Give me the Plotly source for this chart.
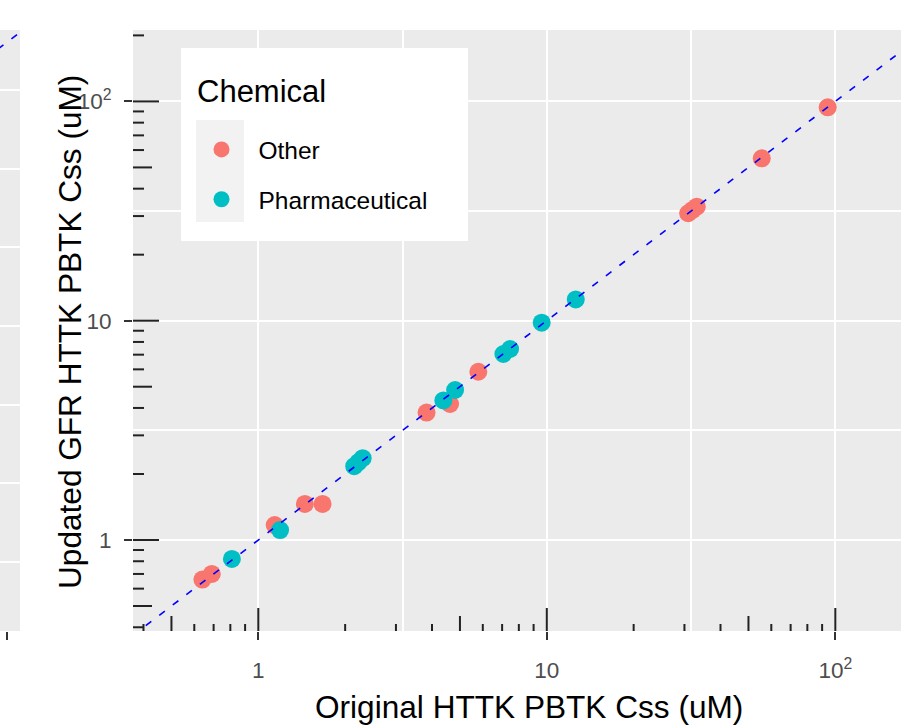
import numpy as np
import plotly.graph_objects as go

# ---------------- data ----------------
other_x = [0.64, 0.69, 1.14, 1.45, 1.67, 3.83, 4.62, 5.79, 30.9, 32.0, 33.1, 55.6, 94.1]
other_y = [0.66, 0.70, 1.17, 1.46, 1.46, 3.81, 4.17, 5.85, 30.9, 32.0, 33.1, 55.0, 94.0]
pharm_x = [0.81, 1.19, 2.15, 2.22, 2.30, 4.38, 4.81, 7.07, 7.46, 9.60, 12.6]
pharm_y = [0.82, 1.11, 2.17, 2.26, 2.36, 4.33, 4.83, 7.05, 7.43, 9.79, 12.5]
major_ticks = [1, 10, 100]
major_labels = ["1", "10", "10<sup>2</sup>"]
minor_grid = [10 ** -0.5, 10 ** 0.5, 10 ** 1.5, 10 ** 2.5]
identity = [0.1, 1000]

# neighbouring (cropped) panel on the left edge
left_grid_major = [1, 10, 100, 1000]
left_grid_minor = [10 ** 0.5, 10 ** 1.5, 10 ** 2.5]
left_xtick = [2000]
left_identity = [1000, 10000]

# ---------------- layout constants ----------------
W, H = 901, 726
M_T, M_B = 30, 95
PLOT_L = 133
PLOT_H = H - M_T - M_B
PLOT_W = W - PLOT_L
X_RANGE = [-0.4343, 2.2277]
Y_RANGE = [-0.415, 2.3256]
PPD_X = PLOT_W / (X_RANGE[1] - X_RANGE[0])
PPD_Y = PLOT_H / (Y_RANGE[1] - Y_RANGE[0])

FONT = "Liberation Sans, Arial, sans-serif"
RED = "#F8766D"
TEAL = "#00BFC4"
PANEL = "#EBEBEB"
TICKC = "#333333"


def px2paper_x(px):
    return px / W


def px2paper_y(py):
    return (H - M_B - py) / PLOT_H


def logtick_values(lo, hi):
    out = {"long": [], "mid": [], "short": []}
    for d in range(int(np.floor(lo)) - 1, int(np.ceil(hi)) + 1):
        for m in range(1, 10):
            v = m * 10.0 ** d
            if lo <= np.log10(v) <= hi:
                key = "long" if m == 1 else ("mid" if m == 5 else "short")
                out[key].append(v)
    return out


fig = go.Figure()

fig.add_trace(go.Scatter(
    x=other_x, y=other_y, mode="markers", name="Other", legendgroup="a",
    marker=dict(color=RED, size=18, line=dict(width=0)), hoverinfo="x+y"))
fig.add_trace(go.Scatter(
    x=pharm_x, y=pharm_y, mode="markers", name="Pharmaceutical", legendgroup="b",
    marker=dict(color=TEAL, size=18, line=dict(width=0)), hoverinfo="x+y"))
fig.add_trace(go.Scatter(
    x=identity, y=identity, mode="lines", showlegend=False, hoverinfo="skip",
    line=dict(color="#0000FF", width=1.6, dash="7px,10px")))

# annotation_logticks (bottom and left, drawn inside the panel)
xt = logtick_values(*X_RANGE)
yt = logtick_values(*Y_RANGE)
xlen = {"long": 23, "mid": 15, "short": 7}
ylen = {"long": 26, "mid": 19, "short": 11}
for key in ("long", "mid", "short"):
    xs, ys = [], []
    for v in xt[key]:
        xs += [v, v, None]
        ys += [10 ** Y_RANGE[0], 10 ** (Y_RANGE[0] + xlen[key] / PPD_Y), None]
    fig.add_trace(go.Scatter(x=xs, y=ys, mode="lines", showlegend=False, hoverinfo="skip",
                             line=dict(color="#222222", width=2)))
    xs, ys = [], []
    for v in yt[key]:
        ys += [v, v, None]
        xs += [10 ** X_RANGE[0], 10 ** (X_RANGE[0] + ylen[key] / PPD_X), None]
    fig.add_trace(go.Scatter(x=xs, y=ys, mode="lines", showlegend=False, hoverinfo="skip",
                             line=dict(color="#222222", width=2)))

# left neighbouring panel strip
fig.add_trace(go.Scatter(
    x=left_identity, y=left_identity, mode="lines", showlegend=False, hoverinfo="skip",
    xaxis="x2", yaxis="y2", line=dict(color="#0000FF", width=1.6, dash="7px,10px")))

axis_common = dict(
    type="log", showline=False, zeroline=False, automargin=False,
    gridcolor="white", gridwidth=2.2,
    ticks="outside", ticklen=8, tickwidth=2, tickcolor=TICKC,
    tickfont=dict(family=FONT, size=22.5, color="#4D4D4D"),
    tickmode="array", tickvals=major_ticks, ticktext=major_labels,
    minor=dict(tickmode="array", tickvals=minor_grid, showgrid=True,
               gridcolor="white", gridwidth=1.6, ticks=""),
)

fig.update_layout(
    width=W, height=H,
    margin=dict(l=0, r=0, t=M_T, b=M_B, pad=0, autoexpand=False),
    paper_bgcolor="white", plot_bgcolor=PANEL,
    font=dict(family=FONT, color="black"),
    xaxis=dict(axis_common, domain=[PLOT_L / W, 1], range=X_RANGE, anchor="y",
               ticklabelstandoff=11),
    yaxis=dict(axis_common, range=Y_RANGE, anchor="x", ticklabelstandoff=8),
    xaxis2=dict(type="log", domain=[0, 20 / W], range=[3.269, 3.364], anchor="y2",
                automargin=False,
                showgrid=False, zeroline=False, showline=False, showticklabels=False,
                tickmode="array", tickvals=left_xtick, ticks="outside", ticklen=8,
                tickwidth=2, tickcolor=TICKC),
    yaxis2=dict(type="log", domain=[0, 1], range=[-0.438, 3.380], anchor="x2",
                automargin=False,
                showticklabels=False, ticks="", zeroline=False, showline=False,
                tickmode="array", tickvals=left_grid_major,
                gridcolor="white", gridwidth=2.2,
                minor=dict(tickmode="array", tickvals=left_grid_minor, showgrid=True,
                           gridcolor="white", gridwidth=1.6, ticks="")),
    legend=dict(
        x=px2paper_x(184.5), y=px2paper_y(127), xanchor="left", yanchor="top",
        bgcolor="rgba(0,0,0,0)", borderwidth=0,
        font=dict(family=FONT, size=24.5, color="black"),
        traceorder="grouped", tracegroupgap=15, itemwidth=64,
    ),
    showlegend=True,
)

# legend box and key background (ggplot style)
fig.add_shape(type="rect", xref="paper", yref="paper", layer="above",
              x0=px2paper_x(181), x1=px2paper_x(468), y0=px2paper_y(241), y1=px2paper_y(48),
              fillcolor="white", line=dict(width=0))
fig.add_shape(type="rect", xref="paper", yref="paper", layer="above",
              x0=px2paper_x(196), x1=px2paper_x(244), y0=px2paper_y(222), y1=px2paper_y(120),
              fillcolor="#F2F2F2", line=dict(width=0))
# legend title
fig.add_annotation(text="Chemical", xref="paper", yref="paper",
                   x=px2paper_x(195), y=px2paper_y(91), showarrow=False,
                   font=dict(family=FONT, size=31, color="black"),
                   xanchor="left", yanchor="middle")

# axis titles
fig.add_annotation(text="Original HTTK PBTK Css (uM)", xref="paper", yref="paper",
                   x=px2paper_x(528.5), y=px2paper_y(707), showarrow=False,
                   font=dict(family=FONT, size=31.6, color="black"),
                   xanchor="center", yanchor="middle")
fig.add_annotation(text="Updated GFR HTTK PBTK Css (uM)", xref="paper", yref="paper",
                   x=px2paper_x(70), y=px2paper_y(332), showarrow=False, textangle=-90,
                   font=dict(family=FONT, size=31.6, color="black"),
                   xanchor="center", yanchor="middle")

# cropped bold heading at the very top (only its descenders are visible)
fig.add_annotation(text="<b>p y</b>", xref="paper", yref="paper",
                   x=px2paper_x(744), y=px2paper_y(8), yshift=27, showarrow=False,
                   borderpad=0, font=dict(family=FONT, size=60, color="black"),
                   xanchor="left", yanchor="bottom")

fig.write_html("out.html",
               config={"displayModeBar": False},
               post_script="document.body.style.margin='0';"
                           "document.body.style.overflow='hidden';")
